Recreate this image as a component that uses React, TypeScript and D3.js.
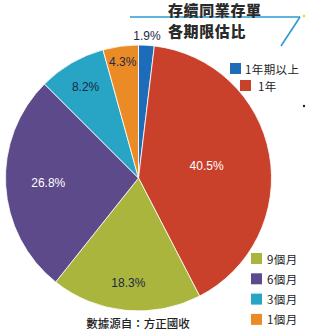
import * as d3 from "d3";

const categories = ["1年期以上", "1年", "9個月", "6個月", "3個月", "1個月"];
const shares = [1.9, 40.5, 18.3, 26.8, 8.2, 4.3];
const labels = ["1.9%", "40.5%", "18.3%", "26.8%", "8.2%", "4.3%"];
const titleLines = ["存續同業存單", "各期限估比"];
const sourceNote = "數據源自：方正國收";

const colors = ["#1d6cb9", "#c9412b", "#a9b53c", "#5d4a8a", "#28a4c5", "#eb8b25"];
const labelColors = ["#1d2844", "#ffffff", "#1d2844", "#ffffff", "#1d2844", "#1d2844"];
// label distance from the centre, as a share of the radius
const labelRadius = [1.07, 0.52, 0.79, 0.68, 0.79, 0.88];

const width = 311;
const height = 330;
const cx = 138.5;
const cy = 178;
const radius = 133;

const sansFont = "'Liberation Sans', Arial, sans-serif";
const cjkFont = "'Noto Sans CJK TC', sans-serif";

export default function App() {
  const data = categories.map((name, i) => ({ name, value: shares[i], i }));
  const pie = d3.pie<any>().value((d) => d.value).sort(null);
  const arcs = pie(data);
  const arc = d3.arc<any>().innerRadius(0).outerRadius(radius);

  const labelPos = (d: any) => {
    const r = radius * labelRadius[d.data.i];
    return d3.arc<any>().innerRadius(r).outerRadius(r).centroid(d);
  };

  const topLegend = [0, 1];
  const bottomLegend = [2, 3, 4, 5];

  return (
    <svg
      width={width}
      height={height}
      style={{ position: "absolute", left: 0, top: 0, background: "#fff" }}
    >
      <g transform={`translate(${cx},${cy})`}>
        {arcs.map((d) => (
          <path key={d.data.name} d={arc(d) || ""} fill={colors[d.data.i]} stroke="#fff" strokeWidth={0.8} />
        ))}
        {arcs.map((d) => {
          const [x, y] = labelPos(d);
          return (
            <text
              key={d.data.name}
              x={x}
              y={y}
              textAnchor="middle"
              dominantBaseline="central"
              fontFamily={sansFont}
              fontSize={12}
              fill={labelColors[d.data.i]}
            >
              {labels[d.data.i]}
            </text>
          );
        })}
      </g>

      {/* title with blue bracket */}
      <line x1={130} y1={17} x2={300} y2={17} stroke="#2a9ad4" strokeWidth={1.6} />
      <line x1={300} y1={17} x2={281} y2={46} stroke="#2a9ad4" strokeWidth={1.6} />
      <circle cx={304} cy={16} r={1.2} fill="#f2d21b" />
      <circle cx={304} cy={106} r={1.2} fill="#222" />
      {titleLines.map((t, i) => (
        <text
          key={t}
          x={168}
          y={9 + i * 21.5}
          dominantBaseline="central"
          fontFamily={cjkFont}
          fontWeight={900}
          fontSize={15}
          letterSpacing={0.6}
          fill="#2a2a2a"
        >
          {t}
        </text>
      ))}

      {/* legend */}
      {topLegend.map((i, k) => {
        const x = 230 + k * 10;
        const y = 63 + k * 17;
        return (
          <g key={categories[i]}>
            <rect x={x} y={y} width={11} height={11} fill={colors[i]} />
            <text
              x={x + 15 + k * 3}
              y={y + 5.5}
              dominantBaseline="central"
              fontFamily={cjkFont}
              fontSize={11.5}
              letterSpacing={0.4}
              fill="#222"
            >
              {categories[i]}
            </text>
          </g>
        );
      })}
      {bottomLegend.map((i, k) => {
        const y = 253 + k * 20.3;
        return (
          <g key={categories[i]}>
            <rect x={251} y={y} width={11} height={11} fill={colors[i]} />
            <text
              x={267}
              y={y + 5.5}
              dominantBaseline="central"
              fontFamily={cjkFont}
              fontSize={11.5}
              letterSpacing={0.4}
              fill="#222"
            >
              {categories[i]}
            </text>
          </g>
        );
      })}

      <text
        x={138}
        y={323}
        textAnchor="middle"
        dominantBaseline="central"
        fontFamily={cjkFont}
        fontSize={11.5}
        fontWeight={500}
        fill="#222"
      >
        {sourceNote}
      </text>
    </svg>
  );
}
